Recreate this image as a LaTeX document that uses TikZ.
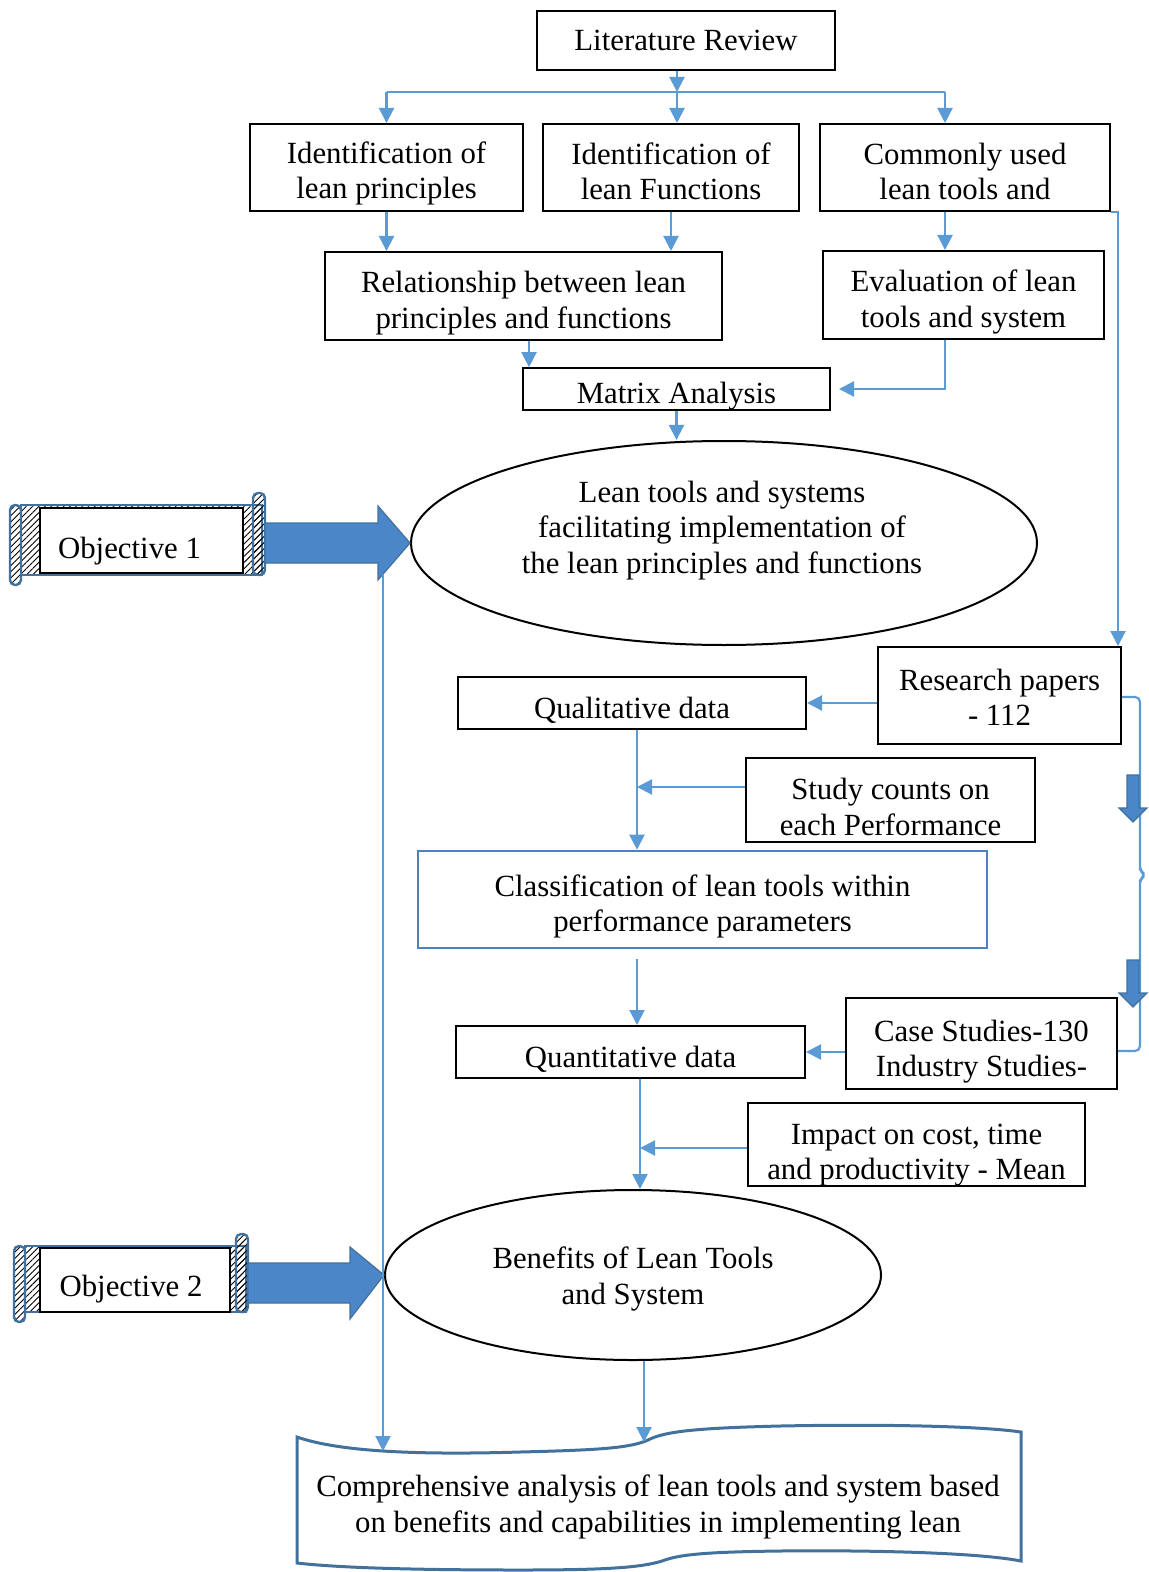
\documentclass[tikz,border=0pt]{standalone}
\usepackage{fontspec}
\setmainfont{Liberation Serif}
\usetikzlibrary{arrows.meta,shapes.geometric,patterns.meta}
\definecolor{lineblue}{RGB}{91,155,213}
\definecolor{darkblue}{RGB}{65,113,156}
\definecolor{arrowfill}{RGB}{74,134,200}
\definecolor{clsblue}{RGB}{79,129,189}
\begin{document}
\begin{tikzpicture}[x=0.5pt,y=-0.5pt,
  every node/.style={font=\fontsize{15.4pt}{17.8pt}\selectfont},
  box/.style={draw=black,line width=1pt,align=center,inner sep=0pt,fill=white},
  lowbox/.style={box,execute at begin node={\rule{0pt}{17.5pt}}},
  txt/.style={align=center,inner sep=0pt},
  oval/.style={draw=black,line width=1pt,ellipse,inner sep=0pt,align=center},
  conn/.style={draw=lineblue,line width=1.1pt,-{Triangle[length=7.5pt,width=7.5pt]}},
  plain/.style={draw=lineblue,line width=1.1pt},
  bigarrow/.style={fill=arrowfill,draw=darkblue,line width=0.6pt,line join=miter},
  rollpart/.style={draw=darkblue,line width=1.2pt,pattern={Lines[angle=45,distance=2.2pt,line width=0.45pt]}}]
\useasboundingbox (0,0) rectangle (1148,1572);

% ---- top level boxes
\node[box,minimum width=149pt,minimum height=29.5pt] (lit) at (686,40.5) {Literature Review};
\node[box,minimum width=136.5pt,minimum height=43.5pt] (p1) at (386.5,167.5) {};
\node[txt] (p1t) at (386.5,173.5) {Identification of\\lean principles};
\node[box,minimum width=128pt,minimum height=43.5pt] (p2) at (671,167.5) {};
\node[txt] (p2t) at (671,171.5) {Identification of\\lean Functions};
\node[box,minimum width=145pt,minimum height=43.5pt] (p3) at (965,167.5) {};
\node[txt] (p3t) at (965,171.5) {Commonly used\\lean tools and};
\node[box,minimum width=198.5pt,minimum height=44pt] (rel) at (523.5,296) {};
\node[txt] (relt) at (523.5,303) {Relationship between lean\\principles and functions};
\node[box,minimum width=140.5pt,minimum height=44pt] (eval) at (963.5,295) {};
\node[txt] (evalt) at (963.5,302) {Evaluation of lean\\tools and system};
\node[lowbox,minimum width=153.5pt,minimum height=20pt] (mat) at (676.5,389) {Matrix Analysis};

% ---- first ellipse
\node[oval,minimum width=313pt,minimum height=102pt] (ell1) at (724,543) {};
\node[txt] (ell1t) at (722,530.5) {Lean tools and systems\\facilitating implementation of\\the lean principles and functions};

% ---- data boxes
\node[box,minimum width=121.5pt,minimum height=48.5pt] (rp) at (999.5,695.5) {};
\node[txt] (rpt) at (999.5,697.5) {Research papers\\- 112};
\node[lowbox,minimum width=174pt,minimum height=26pt] (qual) at (632,703) {Qualitative data};
\node[box,minimum width=144.5pt,minimum height=42pt] (study) at (890.5,800) {};
\node[txt] (studyt) at (890.5,807) {Study counts on\\each Performance};
\node[box,draw=clsblue,line width=1.3pt,minimum width=284.5pt,minimum height=48.5pt] (cls) at (702.5,899.5) {};
\node[txt] (clst) at (702.5,906.5) {Classification of lean tools within\\performance parameters};
\node[lowbox,minimum width=174.5pt,minimum height=26pt] (quant) at (630.5,1052) {Quantitative data};
\node[box,minimum width=135.5pt,minimum height=45.5pt] (case) at (981.5,1043.5) {};
\node[txt] (caset) at (981.5,1051.5) {Case Studies-130\\Industry Studies-};
\node[box,minimum width=168.5pt,minimum height=41.5pt] (imp) at (916.5,1144.5) {};
\begin{scope}
  \clip (imp.south west) rectangle (imp.north east);
  \node[txt] (impt) at (916.5,1155) {Impact on cost, time\\and productivity - Mean};
\end{scope}

% ---- second ellipse
\node[oval,minimum width=248pt,minimum height=85pt] (ell2) at (633,1275) {};
\node[txt] (ell2t) at (633,1279) {Benefits of Lean Tools\\and System};

% ---- closing document shape
\draw[draw=darkblue,line width=1.5pt,fill=white]
  (297,1437) .. controls (340,1452) and (420,1455) .. (520,1452)
  .. controls (600,1450) and (630,1448) .. (648,1440)
  .. controls (665,1431) and (700,1428) .. (780,1426)
  .. controls (880,1424) and (980,1426) .. (1021,1432)
  -- (1021,1561)
  .. controls (980,1553) and (880,1550) .. (780,1551)
  .. controls (700,1552) and (678,1555) .. (662,1561)
  .. controls (640,1568) and (600,1570) .. (520,1570)
  .. controls (420,1570) and (340,1568) .. (297,1563) -- cycle;
\node[txt] (doc) at (658,1507) {Comprehensive analysis of lean tools and system based\\on benefits and capabilities in implementing lean};
\coordinate (dtl) at (383,1451);
\coordinate (dtr) at (644,1442);

% ---- objective scrolls
\draw[rollpart] (21,505) rectangle (262,575);
\draw[rollpart,rounded corners=2.5pt] (10,505) rectangle (21,585);
\draw[rollpart,rounded corners=2.5pt] (253,493) rectangle (265,575);
\node[box,minimum width=101.5pt,minimum height=32.5pt] (obj1) at (141.5,540.5) {};
\node[txt] (obj1t) at (129.5,551) {Objective 1};

\draw[rollpart] (25,1246) rectangle (246,1312);
\draw[rollpart,rounded corners=2.5pt] (14,1246) rectangle (25,1322);
\draw[rollpart,rounded corners=2.5pt] (236,1234) rectangle (248,1312);
\node[box,minimum width=95pt,minimum height=32pt] (obj2) at (135,1280) {};
\node[txt] (obj2t) at (131,1289) {Objective 2};

% ---- broad arrows from the objectives
\draw[bigarrow] (265,523) -- (378,523) -- (378,506) -- (ell1.west) -- (378,580) -- (378,563) -- (265,563) -- cycle;
\draw[bigarrow] (248,1263) -- (350,1263) -- (350,1247) -- (ell2.west) -- (350,1319) -- (350,1303) -- (248,1303) -- cycle;
\coordinate (vtop) at (383,574);

% ---- connectors, top part
\coordinate (br) at (677,92);
\coordinate (brr) at (945,92);
\draw[conn] (lit.south -| br) -- (br);
\draw[plain] (p1.north |- br) -- (brr);
\draw[conn] (p1.north |- br) -- (p1.north);
\draw[conn] (br) -- (br |- p2.north);
\draw[conn] (brr) -- (brr |- p3.north);
\draw[conn] (p1.south) -- (p1.south |- rel.north);
\draw[conn] (p2.south) -- (p2.south |- rel.north);
\draw[conn] (brr |- p3.south) -- (brr |- eval.north);
\coordinate (m1) at ([xshift=3.5pt]mat.north west);
\draw[conn] (m1 |- rel.south) -- (m1);
\draw[conn] (brr |- eval.south) |- ([xshift=4pt]mat.east);
\draw[conn] (mat.south) -- (mat.south |- ell1.north);

% ---- long right-hand feed to the research papers
\coordinate (rr) at ([xshift=-2pt]rp.north east);
\draw[conn] (p3.south east) -| (rr);

% ---- middle flow
\coordinate (qs) at ([xshift=2.5pt]qual.south);
\draw[conn] (rp.west |- qual.east) -- (qual.east);
\draw[conn] (qs) -- (qs |- cls.north);
\coordinate (sw) at ([yshift=6.5pt]study.west);
\draw[conn] (sw) -- (sw -| qs);
\draw[conn,shorten <=5pt] (qs |- cls.south) -- (qs |- quant.north);
\draw[conn] (case.west |- quant.east) -- (quant.east);
\coordinate (qq) at ([xshift=4.75pt]quant.south);
\draw[conn] (qq) -- (qq |- ell2.north);
\coordinate (iw) at ([yshift=-1.75pt]imp.west);
\draw[conn] (iw) -- (iw -| qq);
\coordinate (e2) at ([xshift=5.5pt]ell2.south);
\draw[conn] (e2) -- (dtr);
\draw[conn] (vtop) -- (dtl);

% ---- bracket on the right with its two broad arrows
\draw[plain,rounded corners=2.5pt] (rp.east |- 0,697) -- (1140,697) -- (1140,871) -- (1146,875) -- (1140,879) -- (1140,1051) -- (case.east |- 0,1051);
\draw[bigarrow] (1127,775) -- (1139,775) -- (1139,808) -- (1147,808) -- (1133,822) -- (1119,808) -- (1127,808) -- cycle;
\draw[bigarrow] (1127,960) -- (1139,960) -- (1139,993) -- (1147,993) -- (1133,1007) -- (1119,993) -- (1127,993) -- cycle;
\end{tikzpicture}
\end{document}
